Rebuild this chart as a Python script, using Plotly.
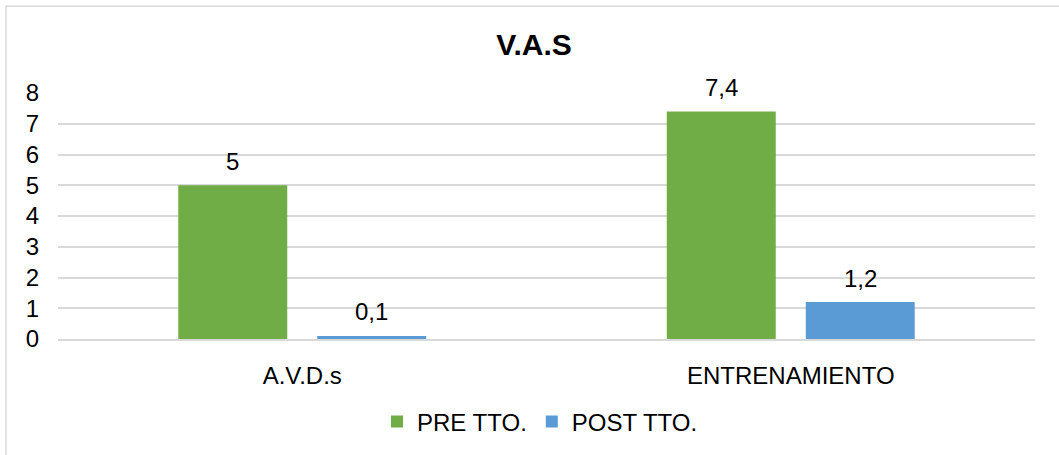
import plotly.graph_objects as go

# Data
categorias = ['A.V.D.s', 'ENTRENAMIENTO']
pre_tto = [5, 7.4]
post_tto = [0.1, 1.2]
etiquetas_pre = ['5', '7,4']
etiquetas_post = ['0,1', '1,2']

W, H = 1059, 455
ml, mr, mt, mb = 58, 24, 93, 115
pw, ph = W - ml - mr, H - mt - mb

fuente = 'Liberation Sans, Arial, sans-serif'
bargap, bargroupgap = 0.431, 0.216

fig = go.Figure()
fig.add_trace(go.Bar(x=categorias, y=pre_tto, name='PRE TTO.',
                     marker=dict(color='#70AD47', line=dict(width=0))))
fig.add_trace(go.Bar(x=categorias, y=post_tto, name='POST TTO.',
                     marker=dict(color='#5B9BD5', line=dict(width=0))))

# Data labels above bars (offset to each bar of the group)
slot = pw / len(categorias) * (1 - bargap) / 2
for serie, etiquetas, signo in [(pre_tto, etiquetas_pre, -1), (post_tto, etiquetas_post, 1)]:
    for cat, val, txt in zip(categorias, serie, etiquetas):
        fig.add_annotation(x=cat, y=val, text=txt, showarrow=False,
                           xshift=signo * slot / 2, yshift=24, yanchor='middle',
                           font=dict(size=24, family=fuente, color='#000000'))

# Chart border
fig.add_shape(
    type='rect', xref='paper', yref='paper',
    x0=(6 - ml) / pw, x1=(1075 - ml) / pw,
    y0=(H - mb - 475) / ph, y1=(H - mb - 6) / ph,
    line=dict(color='#D9D9D9', width=1.5), fillcolor='rgba(0,0,0,0)',
)

fig.update_layout(
    width=W, height=H,
    margin=dict(l=ml, r=mr, t=mt, b=mb),
    paper_bgcolor='white', plot_bgcolor='white',
    font=dict(family=fuente, size=24, color='#000000'),
    title=dict(text='<b>V.A.S</b>', x=534 / W, xanchor='center',
               y=1 - 44 / H, yanchor='middle',
               font=dict(size=30, family=fuente, color='#000000')),
    barmode='group', bargap=bargap, bargroupgap=bargroupgap,
    showlegend=True,
    legend=dict(orientation='h', x=(377 - ml) / pw, xanchor='left',
                y=(H - mb - 422) / ph, yanchor='middle',
                font=dict(size=24, family=fuente), itemwidth=30,
                traceorder='normal'),
)
fig.update_yaxes(range=[0, 8], dtick=1, showgrid=True, gridcolor='#D9D9D9',
                 gridwidth=1.5, zeroline=False, showline=False,
                 ticks='', ticklabelstandoff=18)
fig.update_xaxes(showline=True, linecolor='#D9D9D9', linewidth=1.5,
                 ticks='', ticklabelstandoff=14)

fig.write_html('out.html', config={'displayModeBar': False},
               post_script="document.body.style.margin='0';")
